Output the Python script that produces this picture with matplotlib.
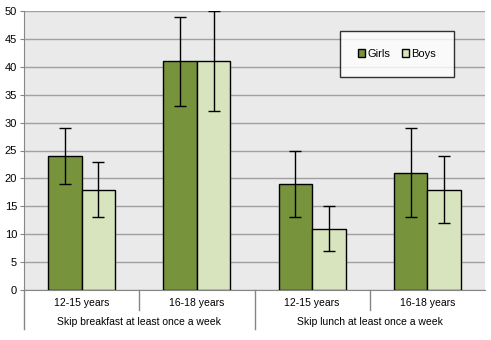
import numpy as np
import matplotlib.pyplot as plt

plt.rcParams['font.family'] = ['Liberation Sans', 'DejaVu Sans']

ages = ['12-15 years', '16-18 years', '12-15 years', '16-18 years']
groups = ['Skip breakfast at least once a week', 'Skip lunch at least once a week']
girls = [24, 41, 19, 21]
boys = [18, 41, 11, 18]
girls_lo = [19, 33, 13, 13]
girls_hi = [29, 49, 25, 29]
boys_lo = [13, 32, 7, 12]
boys_hi = [23, 50, 15, 24]

c_girls = '#77933C'
c_boys = '#D7E4BD'

fig = plt.figure(figsize=(4.91, 3.40), dpi=100)
ax = fig.add_axes([24/491, 50/340, 461/491, 279/340])
ax.set_facecolor('#EAEAEA')

x = np.arange(len(ages))
w = 0.29
g_err = [np.array(girls) - np.array(girls_lo), np.array(girls_hi) - np.array(girls)]
b_err = [np.array(boys) - np.array(boys_lo), np.array(boys_hi) - np.array(boys)]
ax.bar(x - w/2, girls, w, color=c_girls, edgecolor='black', linewidth=1, label='Girls', zorder=3,
       yerr=g_err, error_kw=dict(ecolor='black', elinewidth=1, capsize=4, capthick=1, zorder=4))
ax.bar(x + w/2, boys, w, color=c_boys, edgecolor='black', linewidth=1, label='Boys', zorder=3,
       yerr=b_err, error_kw=dict(ecolor='black', elinewidth=1, capsize=4, capthick=1, zorder=4))

ax.set_xlim(-0.5, len(ages) - 0.5)
ax.set_ylim(0, 50)
ax.set_yticks(range(0, 51, 5))
ax.yaxis.grid(True, color='#A0A0A0', linewidth=1, zorder=0)
ax.set_axisbelow(True)
ax.tick_params(axis='y', labelsize=8, length=3, color='#868686', pad=2)
ax.set_xticks([])
for s in ['top', 'right']:
    ax.spines[s].set_visible(False)
ax.spines['left'].set_color('#868686')
ax.spines['bottom'].set_color('#868686')

# category labels under the axis
trans = ax.get_xaxis_transform()
for i, lab in enumerate(ages):
    ax.text(i, -0.027, lab, transform=trans, ha='center', va='top', fontsize=7.5)
for j, lab in enumerate(groups):
    ax.text(2*j + 0.5, -0.098, lab, transform=trans, ha='center', va='top', fontsize=7.5)
for xv in [-0.5, 1.5]:
    ax.plot([xv, xv], [0, -0.14], transform=trans, color='#868686', lw=1, clip_on=False)
for xv in [0.5, 2.5]:
    ax.plot([xv, xv], [0, -0.072], transform=trans, color='#868686', lw=1, clip_on=False)

leg = ax.legend(loc='upper left', bbox_to_anchor=(0.685, 0.928), borderaxespad=0, ncol=2,
                fontsize=8, frameon=True, fancybox=False, edgecolor='black', handlelength=0.7,
                handleheight=0.7, handletextpad=0.2, columnspacing=1.0, borderpad=1.6)
leg.get_frame().set_linewidth(1)

fig.savefig('out.png', dpi=100)
